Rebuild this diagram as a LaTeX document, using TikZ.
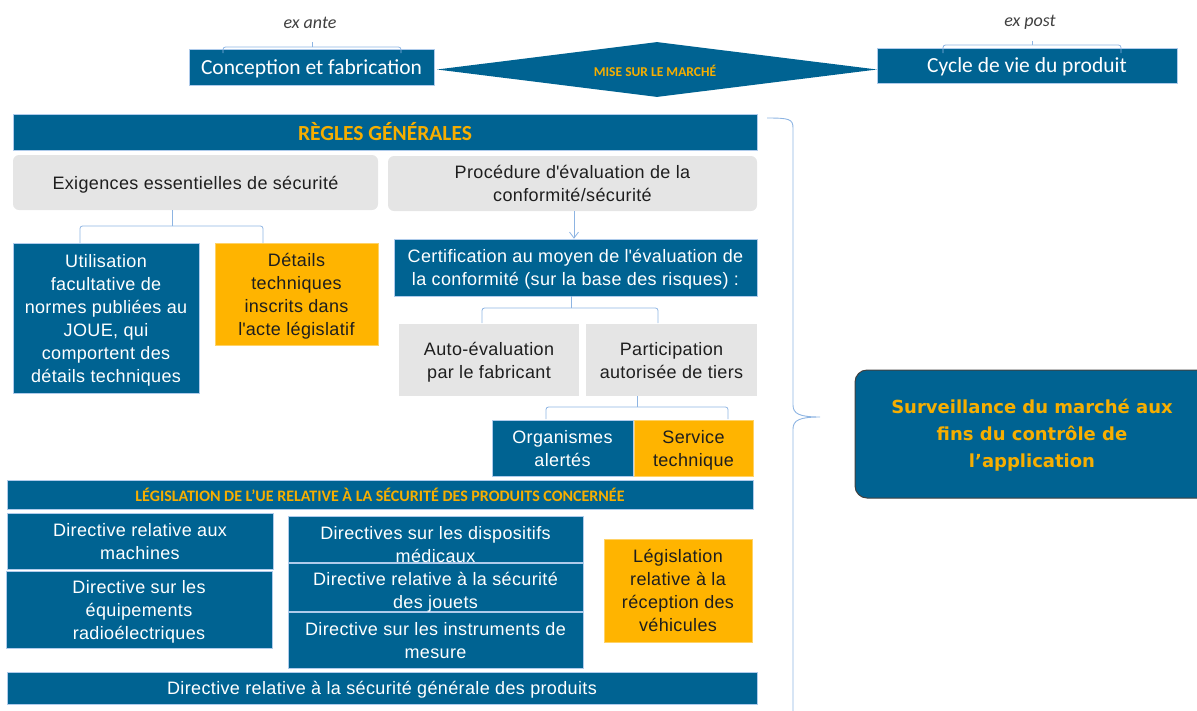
\documentclass[tikz,border=0pt]{standalone}
\usepackage{fontspec}
\setmainfont[LetterSpace=2]{Liberation Sans}
\newfontfamily\calibri{Carlito}
\newfontfamily\survfont{DejaVu Sans}
\usetikzlibrary{shapes.geometric,arrows.meta}
\definecolor{ublue}{RGB}{0,99,146}
\definecolor{uorange}{RGB}{255,180,0}
\definecolor{utxtor}{RGB}{247,174,0}
\definecolor{ugray}{RGB}{229,229,229}
\definecolor{uline}{RGB}{141,180,226}
\definecolor{udark}{RGB}{30,30,30}
\definecolor{uital}{RGB}{64,64,64}
\tikzset{
  boxtext/.style={font=\fontsize{18}{23}\selectfont, align=center, inner sep=0pt, text depth=0pt},
  bluebox/.style={boxtext, fill=ublue, draw=uline!70, line width=0.6pt, text=white},
  orbox/.style={boxtext, fill=uorange, draw=uorange!60, line width=0.6pt, text=udark},
  graybox/.style={boxtext, fill=ugray, text=udark},
  graybox rnd/.style={graybox, rounded corners=6pt},
  topbox/.style={fill=ublue, draw=uline!70, line width=0.6pt, text=white, inner sep=0pt, text depth=0pt, font=\calibri\fontsize{21.5}{24}\selectfont},
  barbox/.style={fill=ublue, draw=uline!70, line width=0.6pt, text=utxtor, inner sep=0pt},
  conn/.style={draw=uline, line width=0.8pt, rounded corners=2.5pt},
  itallbl/.style={text=uital, font=\calibri\itshape\fontsize{18}{20}\selectfont, inner sep=0pt},
  wtext/.style={font=\fontsize{18}{23}\selectfont, align=center, inner sep=0pt, text=white},
}
\begin{document}
\begin{tikzpicture}[x=1pt,y=-1pt]
\useasboundingbox (0,0) rectangle (1197,710);

% ---- top row
\node[topbox, minimum width=245pt, minimum height=36pt] (conc) at (311.5,67) {Conception et fabrication};
\node[diamond, fill=ublue, minimum width=440pt, minimum height=55pt, inner sep=0pt] (mise) at (657,69.5) {};
\node[text=utxtor, inner sep=0pt, font=\calibri\bfseries\fontsize{13.5}{15}\selectfont] (misetxt) at (655,71) {MISE SUR LE MARCHÉ};
\node[topbox, minimum width=300pt, minimum height=35pt] (cycle) at (1027,65.5) {Cycle de vie du produit};

\node[itallbl] (exante) at (310,23) {ex ante};
\node[itallbl] (expost) at (1030,22) {ex post};
\coordinate (eal) at (223,53); \coordinate (eac) at (312,47); \coordinate (ear) at (401,53); \coordinate (eat) at (312,42);
\draw[conn] (eal) |- (eac) -| (ear);
\draw[conn] (eac) -- (eat);
\coordinate (epl) at (943,53); \coordinate (epc) at (1032,45); \coordinate (epr) at (1121,53); \coordinate (ept) at (1032,41);
\draw[conn] (epl) |- (epc) -| (epr);
\draw[conn] (epc) -- (ept);

% ---- Règles générales
\node[barbox, minimum width=744pt, minimum height=36pt, font=\calibri\bfseries\fontsize{21.5}{24}\selectfont] (regles) at (385,132) {RÈGLES GÉNÉRALES};

\node[graybox rnd, minimum width=365pt, minimum height=55pt] (exig) at (195.5,182.5) {Exigences essentielles de sécurité};
\node[graybox rnd, minimum width=369pt, minimum height=55pt] (proc) at (572.5,183.5) {Procédure d\textquotesingle évaluation de la\\conformité/sécurité};

\node[bluebox, minimum width=186pt, minimum height=150pt] (util) at (106,318) {Utilisation\\facultative de\\normes publiées au\\JOUE, qui\\comportent des\\détails techniques};
\node[orbox, minimum width=163pt, minimum height=102pt] (det) at (296.5,294) {Détails\\techniques\\inscrits dans\\l\textquotesingle acte législatif};

\coordinate (b1l) at (80,243); \coordinate (b1c) at (172,226); \coordinate (b1r) at (263,243);
\draw[conn] (b1l) |- (b1c) -| (b1r);
\draw[conn] (b1c) -- (exig.south -| b1c);

\node[bluebox, minimum width=363pt, minimum height=57pt] (cert) at (575.5,267.5) {Certification au moyen de l\textquotesingle évaluation de\\la conformité (sur la base des risques) :};
\draw[draw=uline, line width=0.8pt, -{Straight Barb[length=6pt,width=9pt]}] (proc.south -| 574,0) -- (cert.north -| 574,0);

\node[graybox, minimum width=180pt, minimum height=72pt] (auto) at (489,360) {Auto-évaluation\\par le fabricant};
\node[graybox, minimum width=171pt, minimum height=72pt] (part) at (671.5,360) {Participation\\autorisée de tiers};

\coordinate (b2l) at (482,323); \coordinate (b2c) at (571,308); \coordinate (b2r) at (658,323);
\draw[conn] (b2l) |- (b2c) -| (b2r);
\draw[conn] (b2c) -- (cert.south -| b2c);

\node[bluebox, minimum width=141pt, minimum height=56pt] (org) at (562.5,448) {Organismes\\alertés};
\node[orbox, minimum width=119pt, minimum height=56pt] (serv) at (693.5,448) {Service\\technique};

\coordinate (b3l) at (546,419); \coordinate (b3c) at (637,407); \coordinate (b3r) at (728,419);
\draw[conn] (b3l) |- (b3c) -| (b3r);
\draw[conn] (b3c) -- (part.south -| b3c);

% ---- Législation
\node[barbox, minimum width=746pt, minimum height=29pt, font=\calibri\bfseries\fontsize{16}{18}\selectfont] (legis) at (380,494.5) {LÉGISLATION DE L’UE RELATIVE À LA SÉCURITÉ DES PRODUITS CONCERNÉE};

\node[bluebox, minimum width=266pt, minimum height=56pt] (mach) at (140,541) {Directive relative aux\\machines};
\node[bluebox, minimum width=266pt, minimum height=77pt] (radio) at (139,609.5) {Directive sur les\\équipements\\radioélectriques};

\node[bluebox, minimum width=295pt, minimum height=46pt] (med) at (435.5,539) {};
\node[wtext] (medtxt) at (435.5,545) {Directives sur les dispositifs\\médicaux};
\node[bluebox, minimum width=295pt, minimum height=48pt] (jouet) at (435.5,587) {};
\node[wtext] (jouettxt) at (435.5,592) {Directive relative à la sécurité\\des jouets};
\node[bluebox, minimum width=295pt, minimum height=56pt] (instr) at (435.5,640) {Directive sur les instruments de\\mesure};

\node[orbox, minimum width=148pt, minimum height=103pt] (vehic) at (678,590.5) {Législation\\relative à la\\réception des\\véhicules};

\node[bluebox, minimum width=750pt, minimum height=32pt] (gen) at (382,688) {Directive relative à la sécurité générale des produits};

% ---- right brace
\draw[draw=uline, line width=0.9pt] (767,118) .. controls (789,118) and (793,119) .. (793,128)
  -- (793,405) .. controls (793,414) and (800,417) .. (820,417)
  .. controls (800,417) and (793,420) .. (793,429) -- (793,712);

% ---- Surveillance
\begin{scope}
\clip (0,0) rectangle (1197,710);
\node[fill=ublue, draw=uital, line width=1pt, rounded corners=12pt, minimum width=356pt, minimum height=128pt, inner sep=0pt] (surv) at (1033,434) {};
\end{scope}
\node[text=utxtor, align=center, inner sep=0pt, font=\survfont\bfseries\fontsize{18}{27}\selectfont] (survtxt) at (1032,435) {Surveillance du marché aux\\fins du contrôle de\\l’application};
\end{tikzpicture}
\end{document}
